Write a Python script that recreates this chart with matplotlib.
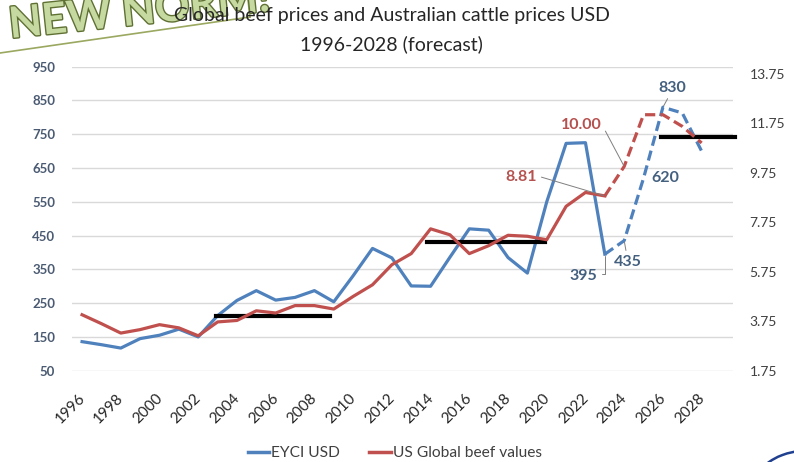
import matplotlib
matplotlib.use("Agg")
import matplotlib.pyplot as plt
import matplotlib.patheffects as pe
from matplotlib.lines import Line2D
from matplotlib.patches import Arc
from matplotlib.transforms import ScaledTranslation
import numpy as np

plt.rcParams['font.family'] = ['Lato', 'DejaVu Sans']

# ---- data ----
years = list(range(1996, 2024))
eyci_usd = [136, 127, 117, 145, 155, 173, 150, 213, 258, 287, 259, 267, 287, 254,
            331, 412, 384, 301, 300, 386, 470, 466, 385, 339, 550, 723, 725, 395]
beef_values = [4.01, 3.65, 3.27, 3.41, 3.61, 3.48, 3.16, 3.72, 3.78, 4.17, 4.08, 4.38,
               4.38, 4.24, 4.75, 5.22, 6.03, 6.48, 7.48, 7.24, 6.48, 6.80, 7.22, 7.18,
               7.04, 8.39, 8.95, 8.81]
fc_years_eyci = [2023, 2024, 2025, 2026, 2027, 2028]
fc_eyci = [395, 435, 620, 830, 813, 700]
fc_years_beef = [2023, 2024, 2025, 2026, 2027, 2028]
fc_beef = [8.81, 10.00, 12.09, 12.09, 11.62, 10.95]
# black "new normal" levels (EYCI axis): start year, end year, level
norm_start = [2002.9, 2013.8, 2025.9]
norm_end = [2008.8, 2019.9, 2029.7]
norm_level = [213, 431, 743]
xtick_years = list(range(1996, 2029, 2))
left_ticks = [50, 150, 250, 350, 450, 550, 650, 750, 850, 950]
right_ticks = [1.75, 3.75, 5.75, 7.75, 9.75, 11.75, 13.75]

BLUE = '#4F81BD'
RED = '#C0504D'
BLUE_TXT = '#44607F'
RED_TXT = '#B5524F'

fig = plt.figure(figsize=(7.94, 4.62), dpi=100)
ax = fig.add_axes([72/794, 1-370.7/462, (733-72)/794, (370.7-66.7)/462])
ax2 = ax.twinx()

ax.set_xlim(1995.48, 2029.62)
ax.set_ylim(50, 950)
ax2.set_ylim(1.75, 14.03)

for s in list(ax.spines.values()) + list(ax2.spines.values()):
    s.set_visible(False)

ax.set_yticks(left_ticks)
ax.set_yticklabels([str(t) for t in left_ticks], fontsize=9.5, fontweight='bold', color='#4A5A72')
ax.grid(axis='y', color='#D9D9D9', linewidth=1)
ax.set_axisbelow(True)
ax.tick_params(axis='y', length=0, pad=12)
ax2.set_yticks(right_ticks)
ax2.set_yticklabels([f"{t:.2f}" for t in right_ticks], fontsize=10, color='#404040')
ax2.tick_params(axis='y', length=0, pad=12)

ax.set_xticks(xtick_years)
ax.set_xticklabels([str(y) for y in xtick_years], rotation=45, ha='right', fontsize=11, color='#262626')
ax.tick_params(axis='x', length=0, pad=15)
shift = ScaledTranslation(4/72, 0, fig.dpi_scale_trans)
for t in ax.get_xticklabels():
    t.set_transform(t.get_transform() + shift)

# series
ax.plot(years, eyci_usd, color=BLUE, lw=2.3, solid_joinstyle='round', zorder=3)
ax.plot(fc_years_eyci, fc_eyci, color=BLUE, lw=2.3, ls=(0, (3.2, 1.6)), zorder=3)
ax2.plot(years, beef_values, color=RED, lw=2.3, solid_joinstyle='round', zorder=3)
ax2.plot(fc_years_beef, fc_beef, color=RED, lw=2.3, ls=(0, (3.2, 1.6)), zorder=3)

for xs, xe, lv in zip(norm_start, norm_end, norm_level):
    ax.plot([xs, xe], [lv, lv], color='black', lw=3, zorder=5, clip_on=False)

# data labels
def lbl(axx, text, xy, xytext, color, relpos=None, conn='arc3'):
    ap = None
    if relpos is not None:
        ap = dict(arrowstyle='-', color='#7F7F7F', lw=0.7, shrinkA=1, shrinkB=1,
                  relpos=relpos, connectionstyle=conn)
    axx.annotate(text, xy=xy, xytext=xytext, textcoords='data', fontsize=11.5, fontweight='bold',
                 color=color, ha='center', va='center', zorder=6, arrowprops=ap)

lbl(ax2, "10.00", (2024, 10.00), (2021.8, 11.69), RED_TXT, relpos=(1.0, 0.5))
lbl(ax2, "8.81", (2023, 8.81), (2018.7, 9.59), RED_TXT, relpos=(1.0, 0.55))
lbl(ax, "395", (2023, 395), (2021.9, 331), BLUE_TXT, relpos=(1.0, 0.6), conn='angle,angleA=0,angleB=90,rad=0')
lbl(ax, "435", (2024, 435), (2024.2, 373), BLUE_TXT, relpos=(0.45, 1.0))
lbl(ax, "620", (2025, 620), (2026.1, 621), BLUE_TXT)
lbl(ax, "830", (2026, 830), (2026.5, 888), BLUE_TXT, relpos=(0.4, 0.0))

# "NEW NORM!" stamp
fig.text(0.014, 1-45/462, "NEW NORM!", rotation=6, fontsize=31, fontweight='bold',
         color='#C6D9A0', ha='left', va='bottom', rotation_mode='anchor', zorder=2,
         path_effects=[pe.withStroke(linewidth=2, foreground='#5F7033')])
fig.add_artist(Line2D([0, 250/794], [1-53/462, 1-17/462], color='#9AA860', lw=1.2))
fig.add_artist(Line2D([248/794, 250/794], [1.0, 1-17/462], color='#9AA860', lw=1.2))

# title
fig.text(0.493, 1-16/462, "Global beef prices and Australian cattle prices USD", ha='center', va='center',
         fontsize=14, color='#262626', zorder=10)
fig.text(0.493, 1-44/462, "1996-2028 (forecast)", ha='center', va='center',
         fontsize=14, color='#262626', zorder=10)

# corner logo swoosh
fig.add_artist(Arc((812/794, 1-482/462), 110/794, 64/462, theta1=100, theta2=145,
                   color='#1F3F8F', lw=1.8, transform=fig.transFigure))

# legend
handles = [Line2D([], [], color=BLUE, lw=2.5), Line2D([], [], color=RED, lw=2.5)]
fig.legend(handles, ["EYCI USD", "US Global beef values"], loc='center', bbox_to_anchor=(0.497, 1-453/462),
           ncol=2, frameon=False, fontsize=11.2, handlelength=1.4, handletextpad=0.1, columnspacing=1.9,
           labelcolor='#404040')

fig.savefig("out.png", dpi=100)
